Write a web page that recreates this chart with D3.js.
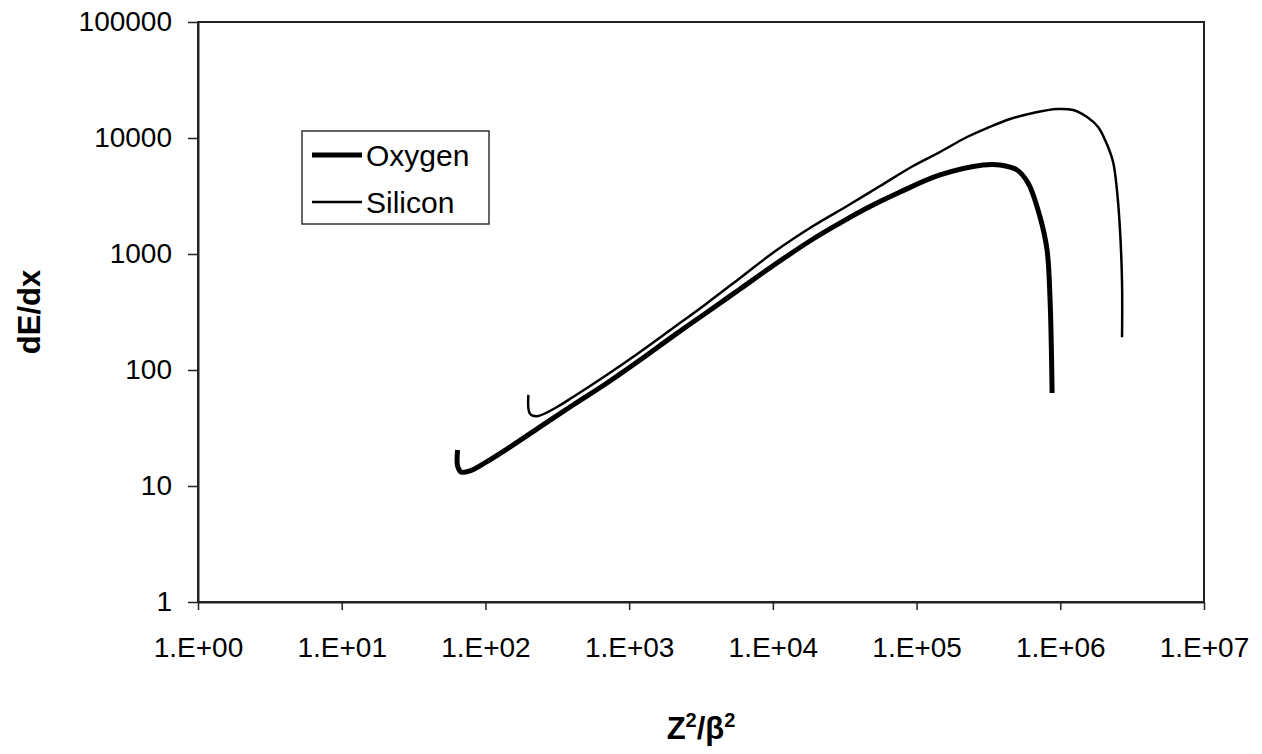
<!DOCTYPE html>
<html>
<head>
<meta charset="utf-8">
<script src="https://cdn.jsdelivr.net/npm/d3@7"></script>
<style>
  html, body { margin: 0; padding: 0; background: #fff; }
  svg { display: block; }
  text { font-family: "Liberation Sans", Arial, sans-serif; fill: #000; }
</style>
</head>
<body>
<svg id="chart" width="1262" height="754"></svg>
<script>
// Stopping power vs Z^2/beta^2 (log-log)
const oxygenX = [64, 64, 67.6, 78, 99, 141, 240, 407, 702, 1191, 2022, 3428, 5916, 10190, 19050, 29350, 45250, 76800, 145600, 290300, 381300, 500400, 597000, 723000, 809000, 849000, 877000];
const oxygenY = [20.4, 14.9, 13.2, 13.5, 15.8, 20.8, 32.3, 49.9, 77.3, 122, 196, 310, 499, 804, 1347, 1850, 2493, 3423, 4798, 5850, 5850, 5300, 4093, 2084, 1082, 401, 63.4];

const siliconX = [199, 204, 229, 315, 407, 702, 1191, 2022, 3428, 5916, 10190, 19050, 32830, 55700, 94600, 145600, 224600, 309700, 447900, 647100, 950000, 1227000, 1536000, 1833000, 2050000, 2330000, 2490000, 2610000, 2690000, 2690000];
const siliconY = [61, 42, 40, 48, 58.5, 91, 143, 230, 371, 621, 1040, 1742, 2594, 3855, 5737, 7575, 10200, 12190, 14580, 16430, 17780, 17420, 15170, 12450, 9610, 6210, 3360, 1520, 562, 192];

const xTickValues = [1, 10, 100, 1000, 10000, 100000, 1000000, 10000000];
const xTickLabels = ["1.E+00", "1.E+01", "1.E+02", "1.E+03", "1.E+04", "1.E+05", "1.E+06", "1.E+07"];
const yTickValues = [1, 10, 100, 1000, 10000, 100000];
const yTickLabels = ["1", "10", "100", "1000", "10000", "100000"];

const seriesNames = ["Oxygen", "Silicon"];
const seriesWidths = [5, 2.5];

const svg = d3.select("#chart");
const plot = { left: 198, top: 22, right: 1204, bottom: 602 };

const x = d3.scaleLog().domain([1, 1e7]).range([plot.left, plot.right]);
const y = d3.scaleLog().domain([1, 1e5]).range([plot.bottom, plot.top]);

// plot frame
svg.append("rect")
  .attr("x", plot.left).attr("y", plot.top)
  .attr("width", plot.right - plot.left).attr("height", plot.bottom - plot.top)
  .attr("fill", "#fff").attr("stroke", "#222").attr("stroke-width", 2);

// axes
const xAxis = d3.axisBottom(x)
  .tickValues(xTickValues)
  .tickFormat((d, i) => xTickLabels[i])
  .tickSize(8).tickPadding(27).tickSizeOuter(0);
const gx = svg.append("g").attr("transform", `translate(0,${plot.bottom})`).call(xAxis);

const yAxis = d3.axisLeft(y)
  .tickValues(yTickValues)
  .tickFormat((d, i) => yTickLabels[i])
  .tickSize(10).tickPadding(16).tickSizeOuter(0);
const gy = svg.append("g").attr("transform", `translate(${plot.left},0)`).call(yAxis);

[gx, gy].forEach(g => {
  g.select(".domain").attr("stroke", "#222").attr("stroke-width", 2);
  g.selectAll(".tick line").attr("stroke", "#222").attr("stroke-width", 1.5);
  g.selectAll(".tick text")
    .attr("font-family", "Liberation Sans, Arial, sans-serif")
    .attr("font-size", 28).attr("fill", "#000");
});

// series
const line = d3.line()
  .x(d => x(d[0]))
  .y(d => y(d[1]))
  .curve(d3.curveCatmullRom.alpha(0.5));

const series = [
  d3.zip(oxygenX, oxygenY),
  d3.zip(siliconX, siliconY)
];

series.forEach((pts, i) => {
  svg.append("path")
    .datum(pts)
    .attr("d", line)
    .attr("fill", "none")
    .attr("stroke", "#000")
    .attr("stroke-width", seriesWidths[i])
    .attr("stroke-linejoin", "round")
    .attr("stroke-linecap", "butt");
});

// legend
const lg = svg.append("g");
lg.append("rect")
  .attr("x", 302).attr("y", 131).attr("width", 187).attr("height", 93)
  .attr("fill", "#fff").attr("stroke", "#333").attr("stroke-width", 1.5);
seriesNames.forEach((name, i) => {
  const cy = 155 + i * 47;
  lg.append("line")
    .attr("x1", 312).attr("x2", 362).attr("y1", cy).attr("y2", cy)
    .attr("stroke", "#000").attr("stroke-width", seriesWidths[i]);
  lg.append("text")
    .attr("x", 366).attr("y", cy + 11)
    .attr("font-size", 30)
    .text(name);
});

// axis titles
const xt = svg.append("text")
  .attr("x", (plot.left + plot.right) / 2).attr("y", 739)
  .attr("text-anchor", "middle")
  .attr("font-size", 31).attr("font-weight", "bold");
xt.append("tspan").text("Z");
xt.append("tspan").attr("dy", -12).attr("font-size", 20).text("2");
xt.append("tspan").attr("dy", 12).text("/β");
xt.append("tspan").attr("dy", -12).attr("font-size", 20).text("2");

svg.append("text")
  .attr("transform", `translate(40,${(plot.top + plot.bottom) / 2}) rotate(-90)`)
  .attr("text-anchor", "middle")
  .attr("font-size", 31).attr("font-weight", "bold")
  .text("dE/dx");
</script>
</body>
</html>
